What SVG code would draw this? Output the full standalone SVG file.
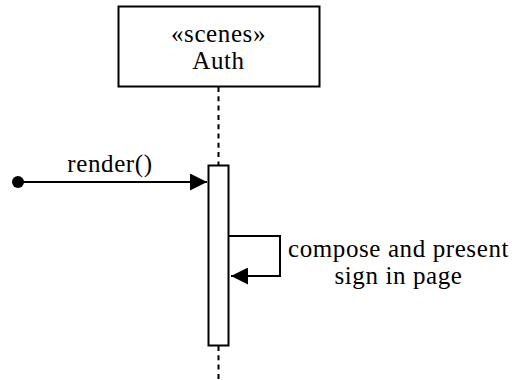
<svg xmlns="http://www.w3.org/2000/svg" width="512" height="380" viewBox="0 0 512 380">
<defs>
<style>
.t{font-family:"Liberation Serif","DejaVu Serif",serif;font-size:25px;letter-spacing:0.6px;fill:#000;text-anchor:middle}
.b{fill:#fff;stroke:#000;stroke-width:2}
.l{fill:none;stroke:#000;stroke-width:2}
.d{fill:none;stroke:#000;stroke-width:2;stroke-dasharray:5,4.3}
</style>
<marker id="ah" viewBox="0 0 10 10" refX="10" refY="5" markerWidth="17" markerHeight="17" markerUnits="userSpaceOnUse" orient="auto">
<path d="M0,0 L10,5 L0,10 Z" fill="#000"/>
</marker>
</defs>
<rect width="512" height="380" fill="#fff"/>
<g id="lifeline">
<line class="d" x1="218.5" y1="87" x2="218.5" y2="165"/>
<line class="d" x1="218.5" y1="346" x2="218.5" y2="380"/>
</g>
<g id="auth">
<rect class="b" x="118.5" y="6.5" width="201" height="80"/>
<text class="t" x="218.5" y="42">«scenes»</text>
<text class="t" x="218.5" y="69">Auth</text>
</g>
<g id="activation">
<rect class="b" x="208.5" y="165.5" width="20" height="180"/>
</g>
<g id="connectors">
<circle cx="18" cy="182" r="6" fill="#000"/>
<line class="l" x1="18" y1="182" x2="207" y2="182" marker-end="url(#ah)"/>
<text class="t" x="110" y="172">render()</text>
<polyline class="l" points="229,236 280,236 280,276 231,276" marker-end="url(#ah)"/>
<text class="t" x="398.5" y="257">compose and present</text>
<text class="t" x="398.5" y="284">sign in page</text>
</g>
</svg>
